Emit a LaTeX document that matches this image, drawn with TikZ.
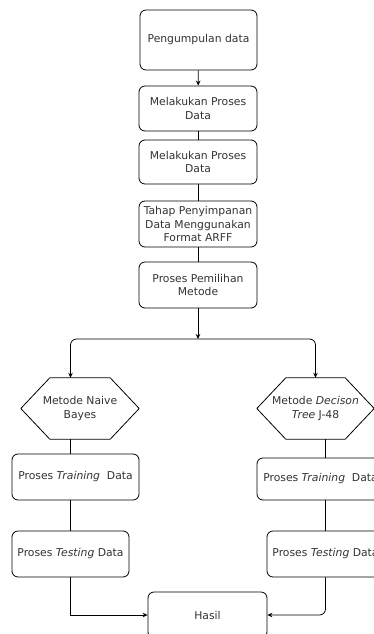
\documentclass[tikz,border=0pt]{standalone}
\usepackage{fontspec}
\setmainfont{DejaVu Sans}
\usepackage{tikz}
\usetikzlibrary{arrows.meta}

\begin{document}
\begin{tikzpicture}[x=1pt,y=-1pt,
    every node/.style={text=black!80, font=\fontsize{10.8}{13.3}\selectfont, align=center},
    proc/.style={draw=black, line width=0.8pt, rounded corners=6pt, inner sep=0pt},
    hexa/.style={inner sep=0pt, minimum width=118pt, minimum height=61pt},
    arr/.style={line width=0.8pt, -{Stealth[length=5pt,width=4.5pt]}},
    link/.style={line width=0.8pt}]
\useasboundingbox (0,0) rectangle (374,634);
\clip (0,0) rectangle (374,634);

% Main steps
\node[proc, minimum width=117pt, minimum height=60pt] (kumpul) at (198.5,40) {Pengumpulan data};
\node[proc, minimum width=118pt, minimum height=45pt] (proses1) at (198,108.5) {Melakukan Proses\\Data};
\node[proc, minimum width=118pt, minimum height=44pt] (proses2) at (198,162) {Melakukan Proses\\Data};
\node[proc, minimum width=118pt, minimum height=46pt] (simpan) at (198,224) {Tahap Penyimpanan\\Data Menggunakan\\Format ARFF};
\node[proc, minimum width=118pt, minimum height=46pt] (pilih) at (198,285) {Proses Pemilihan\\Metode};
\coordinate (cabang) at (198,339);

% Naive Bayes
\node[hexa] (bayes) at (80,408.5) {Metode Naive\\Bayes};
\node[proc, minimum width=127pt, minimum height=46pt] (trainL) at (75.5,477) {Proses \textit{Training}\ \ Data};
\node[proc, minimum width=117pt, minimum height=46pt] (testL) at (70.5,554) {Proses \textit{Testing} Data};

% Decision tree
\node[hexa, minimum width=117pt] (tree) at (315.5,408.5) {Metode \textit{Decison}\\\textit{Tree} J-48};
\node[proc, minimum width=127pt, minimum height=42pt] (trainR) at (320.5,479) {Proses \textit{Training}\ \ Data};
\node[proc, minimum width=117pt, minimum height=46pt] (testR) at (325.5,554) {Proses \textit{Testing} Data};

\node[proc, minimum width=119pt, minimum height=46pt] (hasil) at (207.5,615) {Hasil};

% Hexagon outlines
\foreach \h in {bayes,tree} {
    \draw[link, line join=round] (\h.west) -- ([xshift=29pt]\h.north west) -- ([xshift=-29pt]\h.north east)
        -- (\h.east) -- ([xshift=-29pt]\h.south east) -- ([xshift=29pt]\h.south west) -- cycle;
}

% Connectors
\draw[arr] (kumpul) -- (proses1);
\draw[link] (proses1) -- (proses2);
\draw[link] (proses2) -- (simpan);
\draw[link] (simpan) -- (pilih);
\draw[arr] (pilih) -- (cabang);
\draw[arr, rounded corners=6pt] (cabang) -| (bayes.north -| testL.north);
\draw[arr, rounded corners=6pt] (cabang) -| (tree.north);
\draw[link] (bayes.south -| testL.north) -- (trainL.north -| testL.north);
\draw[link] (trainL.south -| testL.north) -- (testL.north);
\draw[link] (tree.south -| testR.north) -- (trainR.north -| testR.north);
\draw[link] (trainR.south -| testR.north) -- (testR.north);
\draw[arr] (testL.south) |- (hasil.west);
\draw[arr, rounded corners=6pt] (testR.south) |- (hasil.east);

\end{tikzpicture}
\end{document}
